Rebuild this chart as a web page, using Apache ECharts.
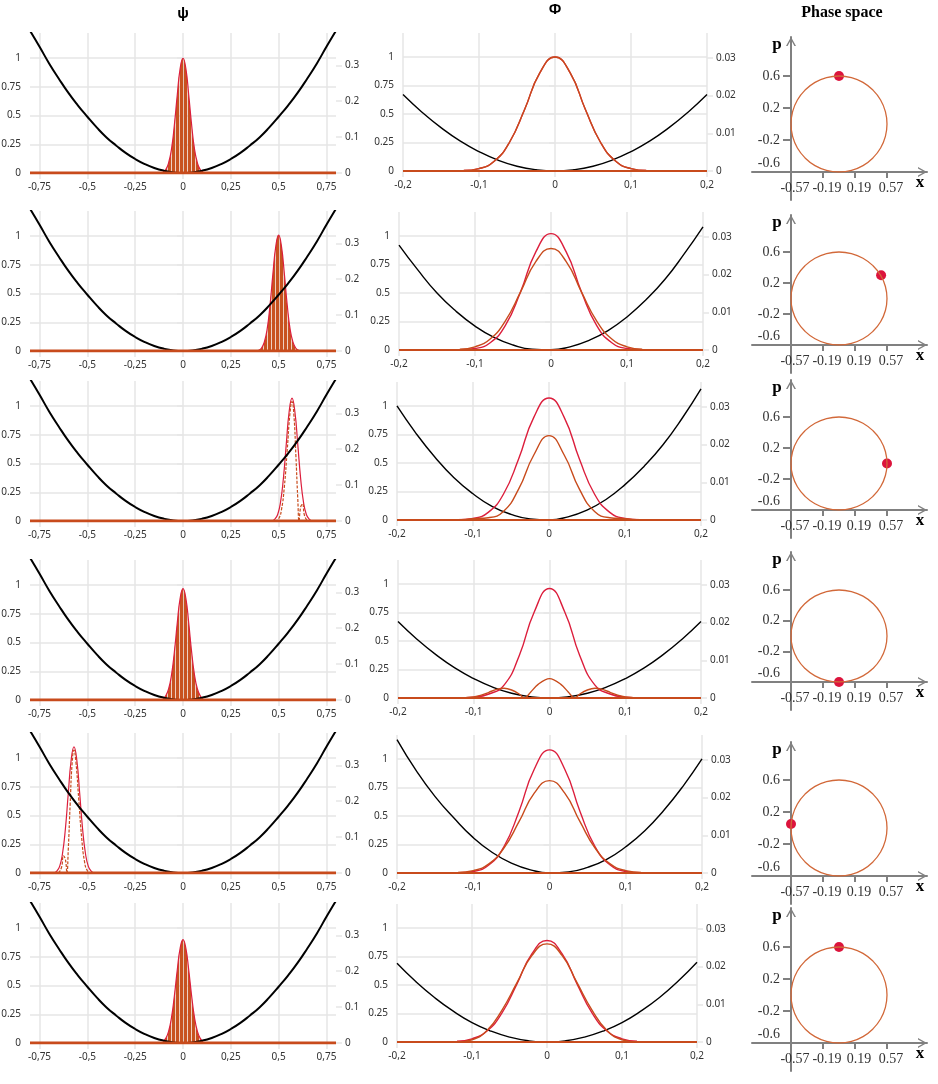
<!DOCTYPE html>
<html lang="en" style="height: 100%">
<head>
  <meta charset="utf-8">
  <title>Wave packet in a harmonic well - echarts</title>
</head>
<body style="height: 100%; margin: 0; background: #fff">
  <div id="container" style="width: 938px; height: 1084px"></div>
  <script type="text/javascript" src="https://fastly.jsdelivr.net/npm/echarts@6.0.0/dist/echarts.min.js"></script>

  <script type="text/javascript">
    // ---------- values ----------

    // tick labels
    const psiTicks = [-0.75, -0.5, -0.25, 0, 0.25, 0.5, 0.75];
    const phiTicks = [-0.2, -0.1, 0, 0.1, 0.2];
    const leftTicks = [0, 0.25, 0.5, 0.75, 1];
    const psiRightTicks = [0, 0.1, 0.2, 0.3];
    const phiRightTicks = [0, 0.01, 0.02, 0.03];
    const phaseXTicks = [-0.57, -0.19, 0.19, 0.57];
    const phasePTicks = [0.6, 0.2, -0.2, -0.6];

    // zero line of every panel
    const psiBaseX = [-0.8, 0.8];
    const phiBaseX = [-0.2, 0.2];
    const baseY = [0, 0];

    // potential well, ψ column (same in every row)
    const psiX = [-0.8, -0.75, -0.7, -0.65, -0.6, -0.55, -0.5, -0.45, -0.4, -0.35, -0.3, -0.25, -0.2, -0.15, -0.1, -0.05, 0,
                  0.05, 0.1, 0.15, 0.2, 0.25, 0.3, 0.35, 0.4, 0.45, 0.5, 0.55, 0.6, 0.65, 0.7, 0.75, 0.8];
    const psiWell = [1.24, 1.1, 0.955, 0.824, 0.70, 0.59, 0.49, 0.395, 0.31, 0.24, 0.175, 0.122, 0.078, 0.044, 0.02, 0.005, 0,
                     0.005, 0.02, 0.044, 0.078, 0.122, 0.175, 0.24, 0.31, 0.395, 0.49, 0.59, 0.70, 0.824, 0.955, 1.1, 1.24];

    // |ψ| envelopes, sampled around each packet centre
    const packetDx = [-0.105, -0.09, -0.075, -0.06, -0.045, -0.03, -0.015, 0, 0.015, 0.03, 0.045, 0.06, 0.075, 0.09, 0.105];
    const packetCentre = [0, 0.5, 0.57, 0, -0.57, 0];
    const psiEnv1 = [0.01, 0.03, 0.09, 0.21, 0.42, 0.68, 0.91, 1.0, 0.91, 0.68, 0.42, 0.21, 0.09, 0.03, 0.01];
    const psiEnv2 = [0.006, 0.024, 0.077, 0.19, 0.40, 0.67, 0.91, 1.01, 0.91, 0.67, 0.40, 0.19, 0.077, 0.024, 0.006];
    const psiEnv3 = [0, 0.016, 0.057, 0.165, 0.373, 0.67, 0.952, 1.07, 0.952, 0.67, 0.373, 0.165, 0.057, 0.016, 0];
    const psiEnv4 = [0.011, 0.037, 0.098, 0.22, 0.42, 0.67, 0.885, 0.97, 0.885, 0.67, 0.42, 0.22, 0.098, 0.037, 0.011];
    const psiEnv5 = [0, 0.016, 0.058, 0.17, 0.384, 0.69, 0.98, 1.1, 0.98, 0.69, 0.384, 0.17, 0.058, 0.016, 0];
    const psiEnv6 = [0.013, 0.04, 0.103, 0.224, 0.412, 0.636, 0.825, 0.9, 0.825, 0.636, 0.412, 0.224, 0.103, 0.04, 0.013];
    const psiEnvs = [psiEnv1, psiEnv2, psiEnv3, psiEnv4, psiEnv5, psiEnv6];

    // real part at the turning points (rows 3 and 5)
    const psiReX3 = [0.48, 0.5, 0.515, 0.53, 0.545, 0.56, 0.57, 0.58, 0.59, 0.6, 0.607, 0.615, 0.625, 0.635, 0.65];
    const psiRe3 = [0, 0.02, 0.1, 0.3, 0.62, 0.95, 1.04, 0.92, 0.58, 0.2, 0, 0.12, 0.15, 0.05, 0];
    const psiReX5 = [-0.65, -0.635, -0.625, -0.615, -0.607, -0.6, -0.59, -0.58, -0.57, -0.56, -0.545, -0.53, -0.515, -0.5, -0.48];
    const psiRe5 = [0, 0.05, 0.15, 0.12, 0, 0.2, 0.6, 0.95, 1.07, 0.97, 0.64, 0.31, 0.1, 0.02, 0];

    // potential in the Φ column
    const phiX = [-0.2, -0.175, -0.15, -0.125, -0.1, -0.075, -0.05, -0.025, 0, 0.025, 0.05, 0.075, 0.1, 0.125, 0.15, 0.175, 0.2];
    const phiWell1 = [0.67, 0.515, 0.38, 0.264, 0.17, 0.095, 0.042, 0.011, 0, 0.011, 0.042, 0.095, 0.17, 0.264, 0.38, 0.515, 0.67];
    const phiWell2 = [0.92, 0.70, 0.50, 0.34, 0.21, 0.11, 0.044, 0.007, 0.002, 0.028, 0.084, 0.17, 0.29, 0.44, 0.62, 0.84, 1.08];
    const phiWell3 = [1.0, 0.76, 0.55, 0.37, 0.23, 0.12, 0.05, 0.01, 0.001, 0.028, 0.087, 0.18, 0.31, 0.47, 0.66, 0.89, 1.15];
    const phiWell4 = [0.67, 0.515, 0.38, 0.264, 0.17, 0.095, 0.042, 0.011, 0, 0.011, 0.042, 0.095, 0.17, 0.264, 0.38, 0.515, 0.67];
    const phiWell5 = [1.17, 0.90, 0.67, 0.48, 0.31, 0.18, 0.087, 0.028, 0.001, 0.01, 0.05, 0.12, 0.23, 0.37, 0.55, 0.76, 1.0];
    const phiWell6 = [0.69, 0.53, 0.39, 0.27, 0.17, 0.096, 0.043, 0.011, 0, 0.011, 0.043, 0.096, 0.17, 0.27, 0.39, 0.535, 0.70];
    const phiWells = [phiWell1, phiWell2, phiWell3, phiWell4, phiWell5, phiWell6];

    // |Φ| (red) and the second Φ curve (orange)
    const phiGX = [-0.12, -0.1, -0.08, -0.06, -0.04, -0.02, 0, 0.02, 0.04, 0.06, 0.08, 0.1, 0.12];
    const phiRed1 = [0.004, 0.021, 0.085, 0.25, 0.54, 0.86, 1.0, 0.86, 0.54, 0.25, 0.085, 0.021, 0.004];
    const phiRed2 = [0.002, 0.013, 0.064, 0.215, 0.51, 0.86, 1.02, 0.86, 0.51, 0.215, 0.064, 0.013, 0.002];
    const phiRed3 = [0.002, 0.014, 0.067, 0.226, 0.535, 0.9, 1.07, 0.9, 0.535, 0.226, 0.067, 0.014, 0.002];
    const phiRed4 = [0.002, 0.008, 0.035, 0.113, 0.371, 0.757, 0.96, 0.757, 0.371, 0.113, 0.035, 0.008, 0.002];
    const phiRed5 = [0.002, 0.014, 0.068, 0.228, 0.54, 0.91, 1.08, 0.91, 0.54, 0.228, 0.068, 0.014, 0.002];
    const phiRed6 = [0.006, 0.028, 0.097, 0.255, 0.51, 0.775, 0.89, 0.775, 0.51, 0.255, 0.097, 0.028, 0.006];
    const phiReds = [phiRed1, phiRed2, phiRed3, phiRed4, phiRed5, phiRed6];

    const phiOrange1 = [0.004, 0.021, 0.085, 0.25, 0.54, 0.86, 1.0, 0.86, 0.54, 0.25, 0.085, 0.021, 0.004];
    const phiOrange2 = [0.006, 0.028, 0.097, 0.256, 0.51, 0.775, 0.89, 0.775, 0.51, 0.256, 0.097, 0.028, 0.006];
    const phiOrange3 = [0, 0.012, 0.02, 0.075, 0.27, 0.57, 0.74, 0.57, 0.27, 0.075, 0.02, 0.012, 0];
    const phiOrange5 = [0.005, 0.021, 0.078, 0.217, 0.45, 0.70, 0.81, 0.70, 0.45, 0.217, 0.078, 0.021, 0.005];
    const phiOrange6 = [0, 0.02, 0.1, 0.28, 0.52, 0.76, 0.86, 0.76, 0.52, 0.28, 0.1, 0.02, 0];
    const phiOrangeX4 = [-0.12, -0.1, -0.09, -0.08, -0.07, -0.06, -0.05, -0.04, -0.033, -0.025, -0.015, 0, 0.015, 0.025, 0.033, 0.04, 0.05, 0.06, 0.07, 0.08, 0.09, 0.1, 0.12];
    const phiOrange4 = [0, 0.01, 0.025, 0.05, 0.075, 0.085, 0.07, 0.035, 0, 0.05, 0.12, 0.17, 0.12, 0.05, 0, 0.035, 0.07, 0.085, 0.075, 0.05, 0.025, 0.01, 0];

    // phase space orbit and the current point of each row
    const orbitX = [0.57, 0.551, 0.494, 0.403, 0.285, 0.148, 0, -0.148, -0.285, -0.403, -0.494, -0.551, -0.57,
                    -0.551, -0.494, -0.403, -0.285, -0.148, 0, 0.148, 0.285, 0.403, 0.494, 0.551, 0.57];
    const orbitP = [0, 0.155, 0.3, 0.424, 0.52, 0.58, 0.6, 0.58, 0.52, 0.424, 0.3, 0.155, 0,
                    -0.155, -0.3, -0.424, -0.52, -0.58, -0.6, -0.58, -0.52, -0.424, -0.3, -0.155, 0];
    const dotX = [0, 0.5, 0.57, 0, -0.57, 0];
    const dotP = [0.6, 0.3, 0, -0.6, 0.05, 0.6];

    // ---------- layout (pixels) ----------
    const psiZero = [173, 351, 521, 700, 873, 1043];
    const phiZero = [171, 350, 520, 698, 873, 1042];
    const phiLeft = [403, 399, 397, 398, 397, 397];
    const phiRight = [707, 703, 701, 701, 702, 697];
    const phaseTip = [37, 215, 380, 552, 742, 908];
    const phaseP06 = [76, 252, 417, 590, 780, 947];
    const phaseAxisY = [172, 345, 510, 682, 876, 1043];

    const RED = '#dc1e3c';
    const ORANGE = '#c84b1c';
    const GRIDC = '#e6e6e6';
    const AXISC = '#808080';
    const sansLabel = { fontFamily: 'Noto Sans', fontSize: 10, color: '#333' };
    const serifLabel = { fontFamily: 'Liberation Serif', fontSize: 14, color: '#333' };
    const arrow = 'path://M5,0 L10,9 L8.4,9 L5,2.8 L1.6,9 L0,9 Z';

    // vertical stripes used for the ψ packets
    const hatch = document.createElement('canvas');
    hatch.width = 4;
    hatch.height = 4;
    const hctx = hatch.getContext('2d');
    hctx.fillStyle = '#c8521f';
    hctx.fillRect(0, 0, 3, 4);
    hctx.fillStyle = 'rgba(210, 120, 80, 0.35)';
    hctx.fillRect(3, 0, 1, 4);

    function pairs(xs, ys, shift) {
      return xs.map(function (x, i) { return [+(x + (shift || 0)).toFixed(4), ys[i]]; });
    }

    function xValueAxis(gi, min, max, ticks) {
      return {
        type: 'value', gridIndex: gi, min: min, max: max,
        axisLine: { show: false },
        axisTick: { show: true, length: 6, customValues: ticks, lineStyle: { color: GRIDC, width: 1.5 } },
        axisLabel: Object.assign({
          customValues: ticks, margin: 9,
          formatter: function (v) { return String(v).replace('.', ','); }
        }, sansLabel),
        splitLine: { show: true, lineStyle: { color: GRIDC, width: 1.5 } }
      };
    }

    function yValueAxis(gi, min, max, ticks, right) {
      return {
        type: 'value', gridIndex: gi, min: min, max: max,
        position: right ? 'right' : 'left',
        axisLine: { show: false },
        axisTick: { show: true, length: 6, customValues: ticks, lineStyle: { color: GRIDC, width: 1.5 } },
        axisLabel: Object.assign({ customValues: ticks, margin: 9 }, sansLabel),
        splitLine: { show: !right, lineStyle: { color: GRIDC, width: 1.5 } }
      };
    }

    function line(xi, yi, data, color, width, extra) {
      return Object.assign({
        type: 'line', xAxisIndex: xi, yAxisIndex: yi, data: data,
        smooth: true, showSymbol: false, symbol: 'none', animation: false,
        lineStyle: { color: color, width: width }
      }, extra || {});
    }

    const grid = [], xAxis = [], yAxis = [], series = [];
    const title = [
      { text: 'ψ', left: 183, top: 14 },
      { text: 'Φ', left: 555, top: 10 },
      { text: 'Phase space', left: 842, top: 13, textStyle: { fontFamily: 'Liberation Serif', fontSize: 16, fontWeight: 'bold', color: '#000' } }
    ];

    const sx = 96 / 1.14;           // phase space px per x unit
    const xLineLeft = 752, pAxisX = 791, tipX = 927;

    for (let r = 0; r < 6; r++) {
      const g = r * 4;
      const yi = r * 6;

      // ψ panel
      grid.push({ left: 30, width: 306, top: psiZero[r] - 140, height: 140 });
      xAxis.push(xValueAxis(g, -0.8, 0.8, psiTicks));
      yAxis.push(yValueAxis(g, 0, 1.22, leftTicks, false));
      yAxis.push(yValueAxis(g, 0, 0.39, psiRightTicks, true));

      const env = pairs(packetDx, psiEnvs[r], packetCentre[r]);
      if (r === 2 || r === 4) {
        series.push(line(g, yi, env, RED, 1.2));
        series.push(line(g, yi, r === 2 ? pairs(psiReX3, psiRe3) : pairs(psiReX5, psiRe5), ORANGE, 1.2,
          { lineStyle: { color: ORANGE, width: 1.2, type: [3, 1.5] } }));
      } else {
        series.push(line(g, yi, env, RED, 1.2, {
          areaStyle: { color: { image: hatch, repeat: 'repeat' }, opacity: 1 }
        }));
      }
      series.push(line(g, yi, pairs(psiX, psiWell), '#000', 2));
      series.push(line(g, yi, pairs(psiBaseX, baseY), ORANGE, 3, { smooth: false }));

      // Φ panel
      grid.push({ left: phiLeft[r], width: phiRight[r] - phiLeft[r], top: phiZero[r] - 138, height: 138 });
      xAxis.push(xValueAxis(g + 1, -0.2, 0.2, phiTicks));
      yAxis.push(yValueAxis(g + 1, 0, 1.21, leftTicks, false));
      yAxis.push(yValueAxis(g + 1, 0, 0.0366, phiRightTicks, true));

      series.push(line(g + 1, yi + 2, pairs(phiX, phiWells[r]), '#000', 1.4));
      series.push(line(g + 1, yi + 2, pairs(phiGX, phiReds[r]), RED, 1.4));
      const orange = r === 0 ? pairs(phiGX, phiOrange1)
        : r === 1 ? pairs(phiGX, phiOrange2)
        : r === 2 ? pairs(phiGX, phiOrange3)
        : r === 3 ? pairs(phiOrangeX4, phiOrange4)
        : r === 4 ? pairs(phiGX, phiOrange5)
        : pairs(phiGX, phiOrange6);
      series.push(line(g + 1, yi + 2, orange, ORANGE, 1.4, r === 3 ? { smooth: 0.35 } : {}));
      series.push(line(g + 1, yi + 2, pairs(phiBaseX, baseY), ORANGE, 2, { smooth: false }));

      // phase space panel: grid A carries the x axis and the marks, grid B the p axis
      const sy = (phaseAxisY[r] - phaseP06[r]) / 1.2;
      const pMax = 0.6 + (phaseP06[r] - phaseTip[r]) / sy;
      const pMin = -0.6 - 28 / sy;
      const xMin = -0.57 - (pAxisX - xLineLeft) / sx;
      const xMax = 0.57 + (tipX - 887) / sx;

      grid.push({ left: xLineLeft, width: tipX - xLineLeft, top: phaseTip[r], height: phaseAxisY[r] - phaseTip[r] });
      xAxis.push({
        type: 'value', gridIndex: g + 2, min: xMin, max: xMax, position: 'bottom',
        axisLine: { show: true, onZero: false, symbol: ['none', arrow], symbolSize: [10, 9], symbolOffset: [0, -4.5],
          lineStyle: { color: AXISC, width: 2 } },
        axisTick: { show: true, length: 6, customValues: phaseXTicks, lineStyle: { color: AXISC, width: 2 } },
        axisLabel: Object.assign({ customValues: phaseXTicks, margin: 9, padding: [0, 0, 0, 8],
          formatter: function (v) { return String(v); } }, serifLabel),
        splitLine: { show: false }
      });
      yAxis.push({ type: 'value', gridIndex: g + 2, min: -0.6, max: pMax, show: false });

      grid.push({ left: pAxisX, width: tipX - pAxisX, top: phaseTip[r], height: phaseAxisY[r] + 28 - phaseTip[r] });
      xAxis.push({ type: 'value', gridIndex: g + 3, min: -0.57, max: xMax, show: false });
      yAxis.push({
        type: 'value', gridIndex: g + 3, min: pMin, max: pMax, position: 'left',
        axisLine: { show: true, onZero: false, symbol: ['none', arrow], symbolSize: [10, 9], symbolOffset: [0, -4.5],
          lineStyle: { color: AXISC, width: 2 } },
        axisTick: { show: true, length: 8, customValues: [0.6, 0.2, -0.2], lineStyle: { color: AXISC, width: 2 } },
        axisLabel: Object.assign({
          customValues: phasePTicks, margin: 11,
          formatter: function (v) { return v === -0.6 ? '{lift|-0.6}' : String(v); },
          rich: { lift: Object.assign({ padding: [0, 0, 18, 0] }, serifLabel) }
        }, serifLabel),
        splitLine: { show: false }
      });

      series.push(line(g + 2, yi + 4, pairs(orbitX, orbitP), '#d2693a', 1.3));
      series.push({
        type: 'scatter', xAxisIndex: g + 2, yAxisIndex: yi + 4, animation: false,
        data: [[dotX[r], dotP[r]]], symbolSize: 10, itemStyle: { color: '#dc143c', opacity: 1 }
      });

      title.push({ text: 'p', left: 777, top: phaseTip[r] + 8,
        textStyle: { fontFamily: 'Liberation Serif', fontSize: 17, fontWeight: 'bold', color: '#000' } });
      title.push({ text: 'x', left: 920, top: phaseAxisY[r] + 11,
        textStyle: { fontFamily: 'Liberation Serif', fontSize: 17, fontWeight: 'bold', color: '#000' } });
    }

    title.forEach(function (t) {
      t.padding = 0;
      t.textAlign = 'center';
      t.textVerticalAlign = 'middle';
      if (!t.textStyle) {
        t.textStyle = { fontFamily: 'Noto Sans', fontSize: 14, fontWeight: 'bold', color: '#000' };
      }
    });

    const dom = document.getElementById('container');
    const myChart = echarts.init(dom, null, { renderer: 'canvas' });
    const option = {
      animation: false,
      backgroundColor: '#fff',
      title: title,
      grid: grid.map(function (gr) { return Object.assign({ containLabel: false, outerBoundsMode: 'none' }, gr); }),
      xAxis: xAxis,
      yAxis: yAxis,
      series: series
    };
    myChart.setOption(option);
    window.addEventListener('resize', myChart.resize);
  </script>
</body>
</html>
